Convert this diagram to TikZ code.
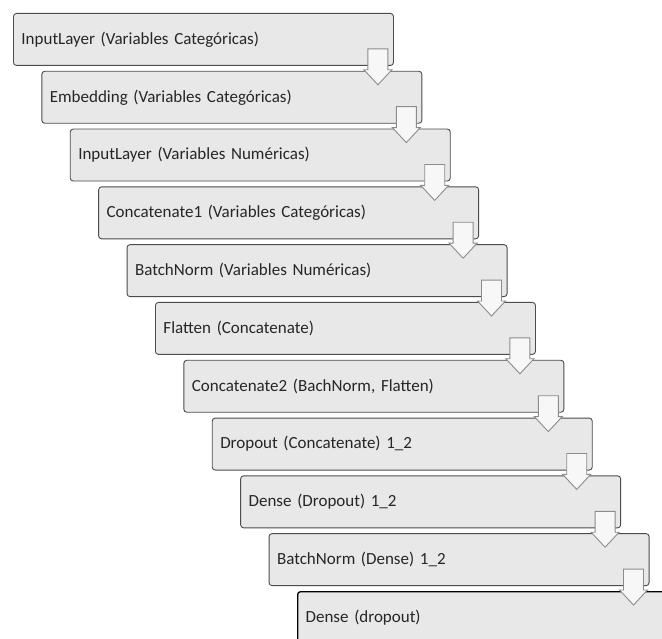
\documentclass[tikz,border=0pt]{standalone}
\usepackage{fontspec}
\setmainfont{Carlito}
\usetikzlibrary{calc}

\tikzset{
  caja/.style={draw=black!70, fill=black!9, rounded corners=3pt, line width=0.9pt,
    minimum width=380pt, minimum height=52pt, text width=364pt, inner sep=8pt,
    align=left, anchor=north west, text=black!85, font=\fontsize{17}{20}\selectfont},
  ultima/.style={caja, draw=black, line width=1.3pt},
  flecha/.style={draw=black!45, fill=black!3, line width=0.9pt, line join=miter}
}

\newcommand{\flecha}[2]{%
  \coordinate (s) at ($(#1.south east)+(-16pt,17pt)$);
  \coordinate (t) at ($(s |- #2.north)+(0,-14pt)$);
  \draw[flecha] ($(s)+(-10pt,0)$) -- ($(s)+(10pt,0)$) -- ($(t)+(10pt,15pt)$)
    -- ($(t)+(14pt,15pt)$) -- (t) -- ($(t)+(-14pt,15pt)$) -- ($(t)+(-10pt,15pt)$) -- cycle;
}

\begin{document}
\begin{tikzpicture}[x=1pt,y=-1pt]
  \clip (0,0) rectangle (662,639);
  \fill[white] (0,0) rectangle (662,639);
  \node[caja] (c1) at (13,13) {InputLayer (Variables Categóricas)};
  \node[caja] (c2) at (41.4,70.8) {Embedding (Variables Categóricas)};
  \node[caja] (c3) at (69.8,128.6) {InputLayer (Variables Numéricas)};
  \node[caja] (c4) at (98.2,186.4) {Concatenate1 (Variables Categóricas)};
  \node[caja] (c5) at (126.6,244.2) {BatchNorm (Variables Numéricas)};
  \node[caja] (c6) at (155,302) {Flatten (Concatenate)};
  \node[caja] (c7) at (183.4,359.8) {Concatenate2 (BachNorm, Flatten)};
  \node[caja] (c8) at (211.8,417.6) {Dropout (Concatenate) 1\_2};
  \node[caja] (c9) at (240.2,475.4) {Dense (Dropout) 1\_2};
  \node[caja] (c10) at (268.6,533.2) {BatchNorm (Dense) 1\_2};
  \node[ultima] (c11) at (297,591) {Dense (dropout)};
  \flecha{c1}{c2}
  \flecha{c2}{c3}
  \flecha{c3}{c4}
  \flecha{c4}{c5}
  \flecha{c5}{c6}
  \flecha{c6}{c7}
  \flecha{c7}{c8}
  \flecha{c8}{c9}
  \flecha{c9}{c10}
  \flecha{c10}{c11}
\end{tikzpicture}
\end{document}
